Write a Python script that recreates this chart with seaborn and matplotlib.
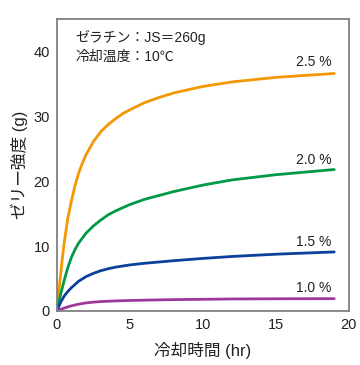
import numpy as np
import pandas as pd
import matplotlib
matplotlib.use("Agg")
import matplotlib.pyplot as plt
import seaborn as sns

# cooling time (hr) and jelly strength (g)
t_25 = [0, 0.1, 0.25, 0.4, 0.5, 0.75, 1, 1.25, 1.5, 1.75, 2, 2.5, 3, 3.5, 4, 4.5, 5, 6, 7, 8, 10, 12, 15, 19]
s_25 = [0, 2.3, 5.5, 8.6, 10.5, 14.3, 17.0, 19.4, 21.3, 22.8, 24.1, 26.1, 27.6, 28.7, 29.6, 30.4, 31.0, 32.1, 32.9, 33.6, 34.6, 35.3, 36.0, 36.6]

t_20 = [0, 0.1, 0.25, 0.5, 0.75, 1, 1.25, 1.5, 2, 2.5, 3, 3.5, 4, 5, 6, 7, 8, 10, 12, 15, 19]
s_20 = [0, 1.0, 2.5, 4.7, 6.7, 8.3, 9.5, 10.5, 12.0, 13.1, 14.0, 14.8, 15.4, 16.4, 17.2, 17.8, 18.4, 19.4, 20.2, 21.0, 21.8]

t_15 = [0, 0.1, 0.25, 0.5, 0.75, 1, 1.5, 2, 2.5, 3, 3.5, 4, 5, 6, 8, 10, 12, 15, 19]
s_15 = [0, 0.55, 1.3, 2.3, 3.0, 3.6, 4.6, 5.3, 5.8, 6.2, 6.5, 6.75, 7.1, 7.35, 7.75, 8.1, 8.4, 8.75, 9.1]

t_10 = [0, 0.25, 0.5, 1, 1.5, 2, 2.5, 3, 4, 5, 6, 8, 10, 12, 15, 19]
s_10 = [0, 0.25, 0.45, 0.8, 1.05, 1.25, 1.36, 1.45, 1.55, 1.62, 1.67, 1.75, 1.8, 1.85, 1.88, 1.9]

labels = ["2.5 %", "2.0 %", "1.5 %", "1.0 %"]
colors = ["#F39800", "#009944", "#0B409C", "#A0389C"]
label_y = [38.3, 23.2, 10.6, 3.5]

frames = []
for lab, t, s in zip(labels, [t_25, t_20, t_15, t_10], [s_25, s_20, s_15, s_10]):
    frames.append(pd.DataFrame({"time": t, "strength": s, "conc": lab}))
df = pd.concat(frames, ignore_index=True)

sns.set_style("white")
plt.rcParams["font.family"] = ["Liberation Sans", "Noto Sans CJK JP"]

fig = plt.figure(figsize=(3.6, 3.65), dpi=100)
ax = fig.add_axes([0.158, 0.148, 0.811, 0.8])

sns.lineplot(data=df, x="time", y="strength", hue="conc", palette=colors,
             hue_order=labels, linewidth=2.0, legend=False, ax=ax, sort=False)

for lab, yy in zip(labels, label_y):
    ax.text(18.8, yy, lab, ha="right", va="center", fontsize=10, color="#222222")

ax.text(1.3, 42.1, "ゼラチン：JS＝260g", fontsize=10, va="center", color="#222222")
ax.text(1.3, 39.1, "冷却温度：10℃", fontsize=10, va="center", color="#222222")

ax.set_xlim(0, 20)
ax.set_ylim(0, 45)
ax.set_xticks([0, 5, 10, 15, 20])
ax.set_yticks([0, 10, 20, 30, 40])
ax.tick_params(axis="both", direction="in", length=5, width=1.2, color="#808080",
               labelsize=10.5, labelcolor="#222222", pad=5)
for sp in ax.spines.values():
    sp.set_color("#808080")
    sp.set_linewidth(1.3)

ax.set_xlabel("冷却時間 (hr)", fontsize=12, color="#222222", labelpad=7)
ax.set_ylabel("ゼリー強度 (g)", fontsize=12, color="#222222", labelpad=4)

fig.savefig("out.png", dpi=100)
